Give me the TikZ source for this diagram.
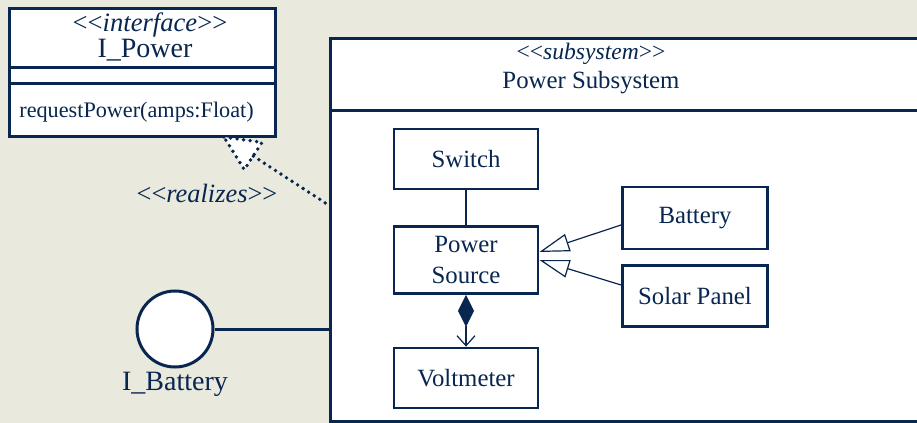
\documentclass[tikz,border=0pt]{standalone}
\usepackage{fontspec}
\setmainfont{Liberation Serif}
\usetikzlibrary{arrows.meta,calc}
\definecolor{navy}{RGB}{8,38,80}
\definecolor{paper}{RGB}{233,233,221}
\newcommand{\stereo}[1]{<\kern0pt<\textit{#1}>\kern0pt>}
\tikzset{
  cls/.style={draw=navy, fill=white, line width=1.4pt, minimum width=72pt, minimum height=30pt,
    inner sep=0pt, align=center, text=navy, font=\fontsize{12.4}{15.5}\selectfont},
  bigbox/.style={draw=navy, fill=white, line width=1.5pt, inner sep=0pt},
  txt/.style={text=navy, inner sep=0pt},
  thin/.style={draw=navy, line width=0.6pt},
  thick/.style={draw=navy, line width=1.5pt},
  gen/.style={thin, -{Triangle[length=15pt, width=9pt, fill=white]}},
  realize/.style={draw=navy, line width=1.9pt, line cap=round, dash pattern=on 0pt off 3.3pt}
}
\begin{document}
\begin{tikzpicture}[x=0.5pt, y=-0.5pt]
  \useasboundingbox (0,0) rectangle (917,423);
  \fill[paper] (0,0) rectangle (917,423);

  % Interface
  \node[bigbox, minimum width=133pt, minimum height=64pt] (ipower) at (142,72) {};
  \draw[thick] (9,67) -- (275,67);
  \draw[thick] (9,83) -- (275,83);
  \node[txt, font=\fontsize{13.3}{15}\selectfont] (ifstereo) at (150,25) {\stereo{interface}};
  \node[txt, font=\fontsize{14}{16}\selectfont] (ifname) at (145,50) {I\_Power};
  \node[txt, anchor=west, font=\fontsize{11.1}{13}\selectfont] (ifop) at (19,112) {requestPower(amps:Float)};

  % Subsystem
  \node[bigbox, minimum width=300pt, minimum height=191.5pt] (sub) at (630,229.5) {};
  \draw[thick] (330,110) -- (930,110);
  \node[txt, font=\fontsize{11.8}{14}\selectfont] (substereo) at (591,54) {\stereo{subsystem}};
  \node[txt, font=\fontsize{12.4}{15}\selectfont] (subname) at (591,83) {Power Subsystem};

  % Parts
  \node[cls] (switch) at (466,159) {Switch};
  \node[cls, minimum height=33.5pt] (source) at (466,260) {Power\\Source};
  \node[cls] (volt) at (466,378) {Voltmeter};
  \node[cls, minimum width=72.5pt, minimum height=31pt] (battery) at (695,218) {Battery};
  \node[cls, minimum width=72.5pt, minimum height=30.5pt] (solar) at (695,296) {Solar Panel};

  \draw[thin] (switch) -- (source);
  \draw[gen] (battery.west |- 0,225) -- (source.east |- 0,252);
  \draw[gen] (solar.west |- 0,285) -- (source.east |- 0,260);
  \draw[draw=navy, line width=0.6pt, {Diamond[length=16pt, width=8pt, fill=navy]}-{Straight Barb[length=5pt, width=9pt]}]
    (source) -- (volt);

  % Realization
  \coordinate (rtip) at (224,137);
  \coordinate (rfoot) at (330,206);
  \draw[realize, fill=white] (rtip) -- ($(rtip)!19.2pt!25:(rfoot)$) -- ($(rtip)!19.2pt!-25:(rfoot)$) -- cycle;
  \draw[realize] ($(rtip)!17.5pt!(rfoot)$) -- (rfoot);
  \node[txt, font=\fontsize{13.2}{15}\selectfont] (rlabel) at (207,193) {\stereo{realizes}};

  % Provided interface
  \node[circle, draw=navy, fill=white, line width=1.5pt, minimum size=38pt, inner sep=0pt] (ibat) at (175,329) {};
  \node[txt, font=\fontsize{14}{16}\selectfont] (ibatname) at (175,384) {I\_Battery};
  \draw[thick] (ibat) -- (ibat -| sub.west);
\end{tikzpicture}
\end{document}
